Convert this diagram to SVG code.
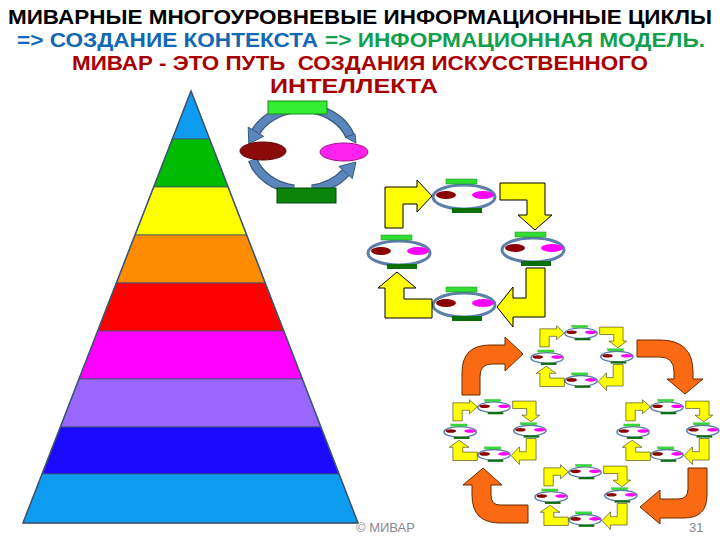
<svg xmlns="http://www.w3.org/2000/svg" xmlns:xlink="http://www.w3.org/1999/xlink" width="720" height="540" viewBox="0 0 720 540">
<style>
.t{font-family:"Liberation Sans",Arial,sans-serif;font-weight:bold;font-size:21px;white-space:pre}
.ft{font-family:"Liberation Sans",Arial,sans-serif;font-size:13px;fill:#8a8a8a}
.y{fill:#ffff00;stroke:#000;stroke-width:1;stroke-linejoin:miter}
.o{fill:#f96a12;stroke:#6a2a00;stroke-width:1}
.ring{fill:#fff;stroke:#5b7fa8;stroke-width:3}
.band{stroke:#3d5670;stroke-width:0.8}
.bl{fill:none;stroke:#38597f;stroke-width:10}
.bf{fill:none;stroke:#5b86bb;stroke-width:7.5}
.bh{fill:#5b86bb;stroke:#38597f;stroke-width:1}
</style>
<defs>
<g id="unit">
<ellipse class="ring" cx="0" cy="0" rx="31" ry="12"/>
<rect x="-18" y="-18" width="31" height="5" fill="#33dd33" stroke="#1a8a1a" stroke-width="0.5"/>
<rect x="-12" y="11" width="30" height="5" fill="#0a6e0a"/>
<ellipse cx="-18" cy="-2" rx="10" ry="4" fill="#8b0000"/>
<ellipse cx="19" cy="-2" rx="11" ry="4" fill="#ff00ff"/>
</g>
<g id="cyc">
<use xlink:href="#unit" href="#unit" transform="translate(464,197)"/>
<use xlink:href="#unit" href="#unit" transform="translate(399,253)"/>
<use xlink:href="#unit" href="#unit" transform="translate(533,250)"/>
<use xlink:href="#unit" href="#unit" transform="translate(464,305)"/>
<path class="y" d="M385,228 L385,187 L417,187 L417,180 L432,196 L417,212 L417,204 L403,204 L403,228 Z"/>
<path class="y" d="M500,183 L545,183 L545,215 L552,215 L535,230 L518,215 L527,215 L527,200 L500,200 Z"/>
<path class="y" d="M545,268 L545,317 L513,317 L513,327 L497,307 L513,287 L513,298 L526,298 L526,268 Z"/>
<path class="y" d="M432,318 L385,318 L385,288 L378,288 L397,272 L416,288 L404,288 L404,299 L432,299 Z"/>
</g>
</defs>

<g id="title">
<text class="t" x="8" y="24" textLength="704" lengthAdjust="spacingAndGlyphs" fill="#000">МИВАРНЫЕ МНОГОУРОВНЕВЫЕ ИНФОРМАЦИОННЫЕ ЦИКЛЫ</text>
<text class="t" x="17" y="47" textLength="301" lengthAdjust="spacingAndGlyphs" fill="#1268b4">=&gt; СОЗДАНИЕ КОНТЕКСТА</text>
<text class="t" x="325" y="47" textLength="380" lengthAdjust="spacingAndGlyphs" fill="#12a04e">=&gt; ИНФОРМАЦИОННАЯ МОДЕЛЬ.</text>
<text class="t" x="72" y="70" textLength="576" lengthAdjust="spacingAndGlyphs" fill="#a80000">МИВАР - ЭТО ПУТЬ  СОЗДАНИЯ ИСКУССТВЕННОГО</text>
<text class="t" x="270" y="93" textLength="168" lengthAdjust="spacingAndGlyphs" fill="#a80000">ИНТЕЛЛЕКТА</text>
</g>

<g id="pyramid">
<polygon class="band" fill="#0d9cf0" points="191,91 209.6,139 172.3,139"/>
<polygon class="band" fill="#00bb00" points="172.3,139 209.6,139 228.1,187 153.7,187"/>
<polygon class="band" fill="#ffff00" points="153.7,187 228.1,187 246.7,235 135,235"/>
<polygon class="band" fill="#ff8c00" points="135,235 246.7,235 265.2,283 116.3,283"/>
<polygon class="band" fill="#ff0000" points="116.3,283 265.2,283 283.8,331 97.7,331"/>
<polygon class="band" fill="#ff00ff" points="97.7,331 283.8,331 302.3,379 79,379"/>
<polygon class="band" fill="#9966ff" points="79,379 302.3,379 320.9,427 60.3,427"/>
<polygon class="band" fill="#1a0aff" points="60.3,427 320.9,427 339.1,474 42,474"/>
<polygon class="band" fill="#0d9cf0" points="42,474 339.1,474 358,523 23,523"/>
<polygon points="191,91 358,523 23,523" fill="none" stroke="#3d5670" stroke-width="1.5"/>
</g>

<g id="cycle-base">
<path class="bl" d="M294,108.6 A52,41 0 0 0 255.9,131.7"/>
<path class="bf" d="M294,108.6 A52,41 0 0 0 255.9,131.7"/>
<polygon class="bh" points="263.6,136.3 248.2,127.1 248.8,143.8"/>
<path class="bl" d="M312,108.6 A52,41 0 0 1 350,136"/>
<path class="bf" d="M312,108.6 A52,41 0 0 1 350,136"/>
<polygon class="bh" points="345,137 355,134 356,143"/>
<path class="bl" d="M252.8,159.6 A52,41 0 0 0 294,189.4"/>
<path class="bf" d="M252.8,159.6 A52,41 0 0 0 294,189.4"/>
<path class="bl" d="M312,189.4 A52,41 0 0 0 345.6,172.5"/>
<path class="bf" d="M312,189.4 A52,41 0 0 0 345.6,172.5"/>
<polygon class="bh" points="352.3,178.5 338.9,166.5 356,162"/>
<rect x="268" y="101" width="59" height="13" fill="#33ee33" stroke="#1a8a1a" stroke-width="1"/>
<ellipse cx="263" cy="151" rx="23" ry="9" fill="#8b0a0a" stroke="#5a0000" stroke-width="1"/>
<ellipse cx="344" cy="152" rx="24" ry="9" fill="#ff22ee" stroke="#a0108f" stroke-width="1"/>
<rect x="277" y="188" width="59" height="15" fill="#0a840a" stroke="#064a06" stroke-width="1"/>
</g>

<g id="cycle-level2">
<use xlink:href="#cyc" href="#cyc"/>
</g>

<g id="cluster-top"><use xlink:href="#cyc" href="#cyc" transform="translate(582,357) scale(0.52,0.44) translate(-466,-251)"/></g>
<g id="cluster-left"><use xlink:href="#cyc" href="#cyc" transform="translate(495,431) scale(0.52,0.44) translate(-466,-251)"/></g>
<g id="cluster-right"><use xlink:href="#cyc" href="#cyc" transform="translate(668,431) scale(0.52,0.44) translate(-466,-251)"/></g>
<g id="cluster-bottom"><use xlink:href="#cyc" href="#cyc" transform="translate(586,496) scale(0.52,0.44) translate(-466,-251)"/></g>

<g id="connectors">
<path class="o" d="M462,395 L462,373 Q462,345 490,345 L505,345 L505,337 L523,354 L505,371 L505,364 L492,364 Q480,364 480,376 L480,395 Z"/>
<path class="o" d="M637,340 L660,340 Q693,340 693,372 L693,379 L703,379 L685,394 L667,379 L674,379 L674,372 Q674,357 660,357 L637,357 Z"/>
<path class="o" d="M707,468 L707,495 Q707,518 684,518 L660,518 L660,524 L640,507 L660,490 L660,499 L678,499 Q688,499 688,489 L688,468 Z"/>
<path class="o" d="M528,505 L528,523 L500,523 Q472,523 472,495 L472,485 L463,485 L483,468 L502,485 L491,485 L491,495 Q491,505 500,505 Z"/>
</g>

<g id="footer">
<text class="ft" x="356" y="532">© МИВАР</text>
<text class="ft" x="689" y="532">31</text>
</g>
</svg>
